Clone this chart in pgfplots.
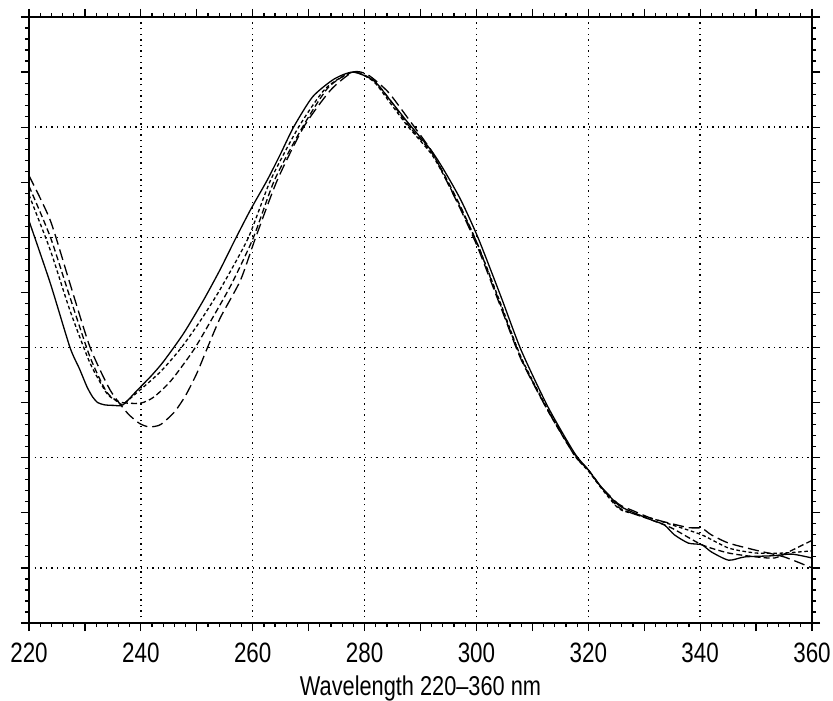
\documentclass[border=0pt]{standalone}
\usepackage{pgfplots}
\pgfplotsset{compat=1.18}
\usepackage{fontspec}
\setmainfont{Liberation Sans}[FakeStretch=0.8]
\begin{document}
\begin{tikzpicture}
\useasboundingbox (-14.5pt,-38.5pt) rectangle (402pt,311.5pt);
\begin{axis}[scale only axis,width=391.5pt,height=303pt,
  xmin=220,xmax=360,ymin=0,ymax=11,
  xtick={220,230,...,360},xticklabels={220,,240,,260,,280,,300,,320,,340,,360},
  minor x tick num=4,
  ytick={0,1,...,11},yticklabel=\empty,minor y tick num=4,
  tick align=outside,major tick length=4pt,minor tick length=2pt,
  every tick/.append style={black,line width=0.6pt},
  axis line style={line width=0.9pt},
  extra x ticks={240,260,...,340},extra x tick labels={},
  extra y ticks={1,3,5,7,9},extra y tick labels={},
  extra tick style={grid=major,major tick length=0pt},
  grid style={black,line width=0.7pt,dash pattern=on 0.7pt off 2.1pt},
  tick label style={font=\fontsize{14}{16}\selectfont},
  xticklabel style={yshift=-2.5pt},
  label style={font=\fontsize{13.6}{16}\selectfont},
  xlabel={Wavelength 220–360 nm},
  xlabel style={at={(axis description cs:0.5,-0.108)},anchor=center},
  /pgf/number format/assume math mode=true]
% solid
\addplot[black,line width=0.65pt,smooth,tension=0.4] table {
220 7.30
223.8 6.17
227.3 5.01
229.0 4.62
230.4 4.28
231.4 4.10
232.3 4.00
233.5 3.96
235.1 3.95
236.8 3.96
239.4 4.23
241.8 4.48
244.0 4.74
247.6 5.25
251.2 5.86
254.2 6.42
256.8 6.95
259.6 7.50
262.6 8.04
265.0 8.52
267.3 9.00
270.7 9.55
274.5 9.87
277.9 10.00
281.6 9.85
284.5 9.50
287.7 9.09
291.9 8.58
294.2 8.22
297.2 7.68
300.3 6.99
304.4 5.92
308.0 4.95
312.8 3.92
317.5 3.09
320.0 2.78
322.3 2.47
325.4 2.14
328.2 2.00
331.3 1.87
333.6 1.78
335.4 1.60
337.9 1.45
340.3 1.42
342.0 1.29
345.1 1.14
348.0 1.20
352.8 1.22
356.4 1.25
360 1.18
};
% medium dashed
\addplot[black,line width=0.65pt,smooth,tension=0.4,dash pattern=on 3pt off 1.6pt] table {
220 7.93
223.8 7.01
227.3 5.92
230.9 4.83
233.9 4.19
236.3 4.01
239.9 3.99
242.3 4.10
245.4 4.40
249.4 4.95
252.6 5.50
256.2 6.15
260.1 6.99
263.9 8.04
268.9 9.00
273.5 9.72
277.9 10.00
281.6 9.85
284.5 9.50
287.7 9.05
291.9 8.55
294.2 8.15
297.2 7.55
300.3 6.85
304.4 5.75
308.0 4.80
312.8 3.85
317.5 3.05
320.0 2.78
322.3 2.47
325.4 2.10
328.2 1.98
331.3 1.87
335.0 1.72
340.3 1.42
345.1 1.27
350.0 1.20
353.3 1.18
355.8 1.29
360 1.50
};
% fine dashed
\addplot[black,line width=0.65pt,smooth,tension=0.4,dash pattern=on 1.8pt off 1.3pt] table {
220 7.77
223.8 6.77
227.3 5.68
230.9 4.72
233.9 4.17
235.4 4.05
236.7 3.97
239.4 4.19
243.5 4.56
247.1 4.98
250.6 5.48
254.2 6.06
259.2 6.99
263.2 8.04
268.2 9.00
273.0 9.70
277.9 10.00
281.6 9.83
284.5 9.45
287.7 9.02
291.9 8.52
294.2 8.12
297.2 7.52
300.3 6.85
304.4 5.78
308.0 4.82
312.8 3.87
317.5 3.05
320.0 2.76
322.3 2.45
325.4 2.08
328.2 1.98
331.3 1.90
335.0 1.78
340.3 1.60
345.1 1.36
350.0 1.27
355.0 1.27
360 1.31
};
% long dashed
\addplot[black,line width=0.65pt,smooth,tension=0.4,dash pattern=on 5.5pt off 2.5pt] table {
220 8.12
223.8 7.31
227.3 6.17
230.9 5.01
234.5 4.23
237.6 3.81
239.8 3.62
241.5 3.56
243.5 3.60
246.0 3.83
248.0 4.13
250.0 4.53
252.0 5.02
254.2 5.54
257.8 6.22
260.5 6.99
264.4 8.04
269.1 9.00
273.9 9.67
277.9 10.00
280.6 9.95
284.2 9.64
287.7 9.17
291.9 8.58
294.2 8.12
297.2 7.50
300.3 6.80
304.4 5.72
308.0 4.78
312.8 3.85
317.5 3.07
320.0 2.78
322.3 2.47
325.4 2.16
328.2 2.03
331.3 1.90
335.0 1.80
338.0 1.73
340.3 1.72
342.0 1.60
345.1 1.45
350.0 1.32
355.0 1.20
360 1.00
};
\end{axis}
\end{tikzpicture}
\end{document}
